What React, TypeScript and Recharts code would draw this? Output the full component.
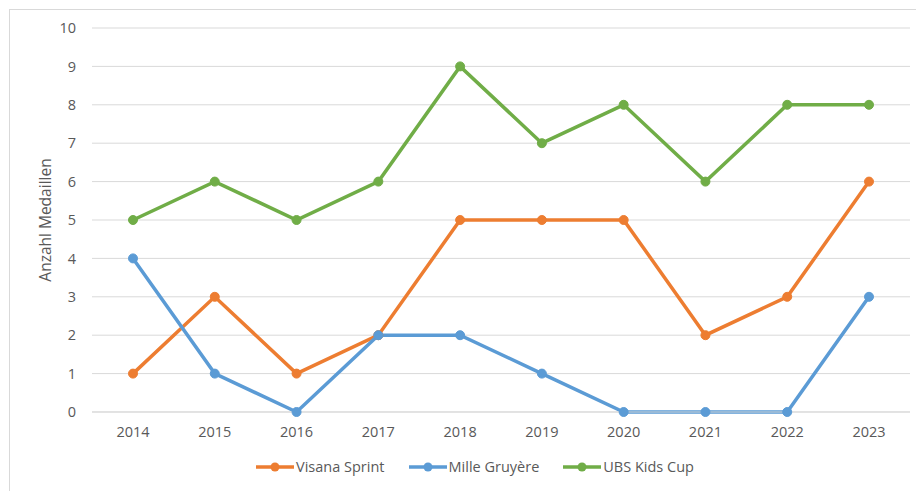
import { CartesianGrid, Legend, Line, LineChart, XAxis, YAxis } from 'recharts'

const YEARS = ['2014', '2015', '2016', '2017', '2018', '2019', '2020', '2021', '2022', '2023']
const VISANA_SPRINT = [1, 3, 1, 2, 5, 5, 5, 2, 3, 6]
const MILLE_GRUYERE = [4, 1, 0, 2, 2, 1, 0, 0, 0, 3]
const UBS_KIDS_CUP = [5, 6, 5, 6, 9, 7, 8, 6, 8, 8]
const Y_TICKS = [0, 1, 2, 3, 4, 5, 6, 7, 8, 9, 10]

const SERIES = [
  { key: 'visana', label: 'Visana Sprint', color: '#ED7D31', values: VISANA_SPRINT },
  { key: 'mille', label: 'Mille Gruyère', color: '#5B9BD5', values: MILLE_GRUYERE },
  { key: 'ubs', label: 'UBS Kids Cup', color: '#70AD47', values: UBS_KIDS_CUP },
]

const data = YEARS.map((year, i) => {
  const row: Record<string, string | number> = { year }
  SERIES.forEach((s) => {
    row[s.key] = s.values[i]
  })
  return row
})

const FONT = '"Open Sans", "Liberation Sans", sans-serif'

function LegendContent() {
  return (
    <div style={{ display: 'flex', justifyContent: 'center', gap: 24, paddingTop: 14, fontFamily: FONT, fontSize: 14.5, color: '#595959' }}>
      {SERIES.map((s) => (
        <div key={s.key} style={{ display: 'flex', alignItems: 'center' }}>
          <svg width={38} height={12} style={{ marginRight: 2 }}>
            <line x1={0} y1={6} x2={38} y2={6} stroke={s.color} strokeWidth={3.5} />
            <circle cx={19} cy={6} r={4.5} fill={s.color} />
          </svg>
          <span>{s.label}</span>
        </div>
      ))}
    </div>
  )
}

export default function App() {
  return (
    <div
      style={{
        margin: '1px 0 0 1px',
        width: 914,
        height: 481,
        borderTop: '1px solid #d9d9d9',
        borderLeft: '1px solid #d9d9d9',
        borderRight: '1px solid #d9d9d9',
        background: '#fff',
      }}
    >
      <LineChart width={914} height={481} data={data} margin={{ top: 18, right: 14, left: 30, bottom: 0 }}>
        <CartesianGrid vertical={false} stroke="#d9d9d9" />
        <XAxis
          dataKey="year"
          height={31}
          padding={{ left: 41, right: 41 }}
          tickLine={false}
          tickMargin={9}
          axisLine={{ stroke: '#d9d9d9' }}
          tick={{ fill: '#595959', fontSize: 14.5, fontFamily: FONT }}
        />
        <YAxis
          width={52}
          domain={[0, 10]}
          ticks={Y_TICKS}
          interval={0}
          axisLine={false}
          tickLine={false}
          tickMargin={10}
          tick={{ fill: '#595959', fontSize: 14.5, fontFamily: FONT }}
          label={{
            value: 'Anzahl Medaillen',
            angle: -90,
            position: 'insideLeft',
            offset: 5,
            style: { textAnchor: 'middle', fill: '#595959', fontSize: 15.5, fontFamily: FONT },
          }}
        />
        <Legend verticalAlign="bottom" height={48} content={<LegendContent />} />
        {SERIES.map((s) => (
          <Line
            key={s.key}
            dataKey={s.key}
            name={s.label}
            stroke={s.color}
            strokeWidth={3.5}
            dot={{ r: 4.5, fill: s.color, stroke: s.color, strokeWidth: 1 }}
            activeDot={false}
            isAnimationActive={false}
          />
        ))}
      </LineChart>
    </div>
  )
}
